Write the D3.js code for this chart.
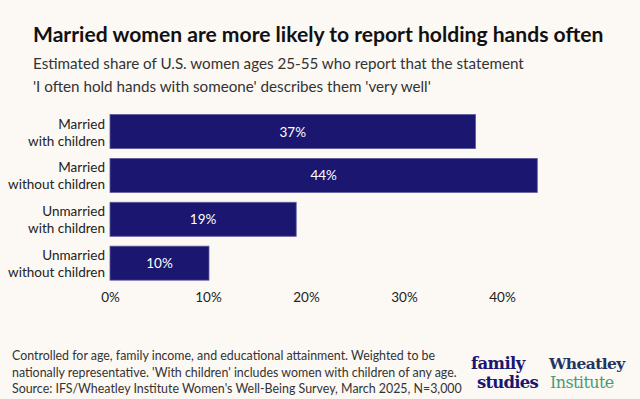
<!DOCTYPE html>
<html><head><meta charset="utf-8">
<script src="https://cdn.jsdelivr.net/npm/d3@7"></script>
<style>
body{margin:0;background:#fcf8f3;}
svg{display:block;font-family:Lato,"Noto Sans",sans-serif;}
</style></head><body>
<svg id="c" width="640" height="399"></svg>
<script>
const categories = [["Married","with children"],["Married","without children"],["Unmarried","with children"],["Unmarried","without children"]];
const values = [0.373, 0.436, 0.19, 0.101];
const ticks = [0, 0.1, 0.2, 0.3, 0.4];

const svg = d3.select("#c");
svg.append("rect").attr("width",640).attr("height",399).attr("fill","#fcf8f3");

svg.append("text").attr("x",33).attr("y",42).attr("font-size",21.1).attr("font-weight",700).attr("fill","#111")
  .text("Married women are more likely to report holding hands often");
const sub = ["Estimated share of U.S. women ages 25-55 who report that the statement","'I often hold hands with someone' describes them 'very well'"];
sub.forEach((s,i)=>svg.append("text").attr("x",33).attr("y",69+i*23).attr("font-size",15.2).attr("fill","#333").text(s));

const x = d3.scaleLinear().domain([0,0.4]).range([110,502]);
const y = d3.scaleBand().domain(d3.range(categories.length)).range([109.7,285]).paddingInner(0.225).paddingOuter(0.11);

const g = svg.append("g");
g.selectAll("rect.bar").data(values).join("rect").attr("class","bar")
  .attr("x",x(0)).attr("y",(d,i)=>y(i)).attr("width",d=>x(d)-x(0)).attr("height",y.bandwidth())
  .attr("fill","#1b1670").attr("stroke","#5c5a9c").attr("stroke-width",0.8);

g.selectAll("text.val").data(values).join("text").attr("class","val")
  .attr("x",d=>(x(d)+x(0))/2).attr("y",(d,i)=>y(i)+y.bandwidth()/2+5).attr("text-anchor","middle")
  .attr("font-size",13.5).attr("fill","#fff").text(d=>d3.format(".0%")(d));

categories.forEach((c,i)=>{
  c.forEach((line,j)=>{
    svg.append("text").attr("x",105).attr("y",y(i)+y.bandwidth()/2-3+j*17).attr("text-anchor","end")
      .attr("font-size",13.5).attr("fill","#222").text(line);
  });
});

const ax = svg.append("g").attr("transform","translate(0,292)")
  .call(d3.axisBottom(x).tickValues(ticks).tickFormat(d3.format(".0%")).tickSize(0).tickPadding(0));
ax.select(".domain").remove();
ax.selectAll("text").attr("font-size",13.5).attr("fill","#222").attr("font-family","Lato,sans-serif").attr("dy","0.71em");

const foot = ["Controlled for age, family income, and educational attainment. Weighted to be",
 "nationally representative. 'With children' includes women with children of any age.",
 "Source: IFS/Wheatley Institute Women's Well-Being Survey, March 2025, N=3,000"];
foot.forEach((s,i)=>svg.append("text").attr("x",12).attr("y",360+i*16.5).attr("font-size",12.4).attr("fill","#333").text(s));

const serif = "'DejaVu Serif','Liberation Serif',serif";
svg.append("text").attr("x",471).attr("y",369).attr("font-family",serif).attr("font-weight",700).attr("font-size",16.5).attr("fill","#1b1670").attr("letter-spacing",-0.6).text("family");
svg.append("text").attr("x",477).attr("y",388).attr("font-family",serif).attr("font-weight",700).attr("font-size",16.5).attr("fill","#1b1670").attr("letter-spacing",-0.8).text("studies");
svg.append("text").attr("x",549).attr("y",369).attr("font-family",serif).attr("font-weight",700).attr("font-size",15.5).attr("fill","#1f3566").attr("letter-spacing",-0.6).text("Wheatley");
svg.append("text").attr("x",550).attr("y",388).attr("font-family",serif).attr("font-size",16).attr("fill","#4a9a78").attr("letter-spacing",-0.6).text("Institute");
</script></body></html>
